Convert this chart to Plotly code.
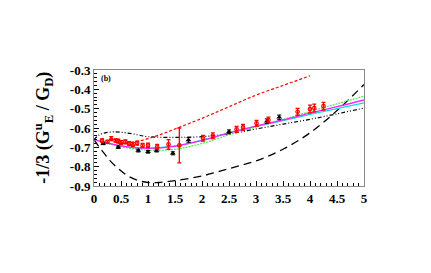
import plotly.graph_objects as go

# red data (open symbols)
red_x = [0.15, 0.25, 0.32, 0.4, 0.45, 0.5, 0.58, 0.65, 0.72, 0.8, 0.9, 1.0, 1.17, 1.38, 1.58, 2.02, 2.2, 2.64, 2.76, 3.01, 3.23, 3.77, 4.0, 4.08, 4.25]
red_y = [-0.665, -0.672, -0.655, -0.665, -0.668, -0.675, -0.672, -0.68, -0.685, -0.678, -0.69, -0.69, -0.697, -0.685, -0.69, -0.653, -0.64, -0.607, -0.597, -0.576, -0.559, -0.516, -0.502, -0.497, -0.487]
red_e = [0.008, 0.008, 0.01, 0.008, 0.01, 0.01, 0.01, 0.01, 0.01, 0.01, 0.01, 0.012, 0.012, 0.025, 0.09, 0.015, 0.015, 0.015, 0.015, 0.015, 0.015, 0.018, 0.02, 0.02, 0.02]
red_sym = ["circle-open", "circle-open", "triangle-up-open", "circle-open", "circle-open", "triangle-up-open", "circle-open", "circle-open", "triangle-up-open", "circle-open", "circle-open", "circle-open", "circle-open", "circle-open", "circle-open", "circle-open", "circle-open", "circle-open", "circle-open", "circle-open", "circle-open", "circle-open", "circle-open", "circle-open", "circle-open"]

# black data (filled triangles)
blk_x = [0.17, 0.45, 0.82, 1.0, 1.16, 1.46, 1.75, 2.5, 3.2, 3.43]
blk_y = [-0.68, -0.70, -0.717, -0.723, -0.717, -0.731, -0.662, -0.62, -0.565, -0.545]
blk_e = [0.006, 0.006, 0.007, 0.007, 0.007, 0.008, 0.012, 0.01, 0.012, 0.012]

# model curves
dot_x = [0.5, 0.75, 1.0, 1.25, 1.5, 2.0, 2.5, 3.0, 3.5, 4.0]
dot_y = [-0.68, -0.672, -0.655, -0.632, -0.605, -0.55, -0.49, -0.43, -0.38, -0.33]

dd_x = [0.0, 0.1, 0.2, 0.35, 0.5, 0.75, 1.0, 1.5, 2.0, 2.5, 3.0, 3.5, 4.0, 4.5, 5.0]
dd_y = [-0.66, -0.635, -0.625, -0.62, -0.622, -0.632, -0.645, -0.648, -0.645, -0.63, -0.605, -0.58, -0.555, -0.527, -0.497]

dash_x = [0.0, 0.1, 0.2, 0.3, 0.45, 0.6, 0.8, 1.0, 1.2, 1.5, 2.0, 2.5, 3.0, 3.5, 4.0, 4.5, 5.0]
dash_y = [-0.66, -0.70, -0.735, -0.77, -0.81, -0.843, -0.87, -0.882, -0.882, -0.872, -0.848, -0.81, -0.77, -0.71, -0.625, -0.51, -0.375]

fit_x = [0.0, 0.25, 0.5, 0.75, 1.0, 1.5, 2.0, 2.5, 3.0, 3.5, 4.0, 4.5, 5.0]
mag_y = [-0.66, -0.678, -0.692, -0.701, -0.705, -0.695, -0.665, -0.625, -0.59, -0.558, -0.523, -0.49, -0.455]
cyan_y = [-0.66, -0.678, -0.692, -0.701, -0.704, -0.693, -0.663, -0.625, -0.592, -0.562, -0.53, -0.5, -0.47]
grn_y = [-0.66, -0.68, -0.697, -0.708, -0.715, -0.71, -0.68, -0.635, -0.595, -0.556, -0.515, -0.475, -0.435]

fig = go.Figure()
fig.add_trace(go.Scatter(x=dash_x, y=dash_y, mode="lines", line=dict(color="black", width=1.3, dash="8px,5px"), line_shape="spline"))
fig.add_trace(go.Scatter(x=dd_x, y=dd_y, mode="lines", line=dict(color="black", width=1.2, dash="4px,2px,1px,2px,1px,2px"), line_shape="spline"))
fig.add_trace(go.Scatter(x=dot_x, y=dot_y, mode="lines", line=dict(color="red", width=1.2, dash="3px,2px"), line_shape="spline"))
fig.add_trace(go.Scatter(x=fit_x, y=grn_y, mode="lines", line=dict(color="#44ee44", width=1.2, dash="2px,1px"), line_shape="spline"))
fig.add_trace(go.Scatter(x=fit_x, y=cyan_y, mode="lines", line=dict(color="#00e0e8", width=1.3), line_shape="spline"))
fig.add_trace(go.Scatter(x=fit_x, y=mag_y, mode="lines", line=dict(color="#ff22ff", width=1.3), line_shape="spline"))
fig.add_trace(go.Scatter(x=blk_x, y=blk_y, mode="markers",
                         error_y=dict(type="data", array=blk_e, color="black", thickness=1, width=2),
                         marker=dict(symbol="triangle-up", size=5, color="black")))
fig.add_trace(go.Scatter(x=red_x, y=red_y, mode="markers",
                         error_y=dict(type="data", array=red_e, color="red", thickness=1.3, width=2),
                         marker=dict(symbol=red_sym, size=3.5, color="red", line=dict(width=1.2, color="red"))))

tickfont = dict(family="Liberation Serif", size=13, color="black", weight="bold")
fig.update_xaxes(range=[0, 5], tickvals=[0, 0.5, 1, 1.5, 2, 2.5, 3, 3.5, 4, 4.5, 5],
                 ticktext=["0", "0.5", "1", "1.5", "2", "2.5", "3", "3.5", "4", "4.5", "5"],
                 ticks="inside", ticklen=5, tickcolor="black", tickwidth=1,
                 minor=dict(ticks="inside", ticklen=3, dtick=0.1, tickcolor="black"),
                 showline=True, linecolor="#888", linewidth=1, mirror=True,
                 showgrid=False, zeroline=False, tickfont=tickfont)
fig.update_yaxes(range=[-0.9, -0.3], tickvals=[-0.9, -0.8, -0.7, -0.6, -0.5, -0.4, -0.3],
                 ticktext=["-0.9", "-0.8", "-0.7", "-0.6", "-0.5", "-0.4", "-0.3"],
                 ticks="inside", ticklen=5, tickcolor="black", tickwidth=1,
                 minor=dict(ticks="inside", ticklen=3, dtick=0.02, tickcolor="black"),
                 showline=True, linecolor="#888", linewidth=1, mirror=True,
                 showgrid=False, zeroline=False, tickfont=tickfont)

fig.add_annotation(x=0.02, y=0.985, xref="paper", yref="paper", text="(b)", showarrow=False,
                   xanchor="left", yanchor="top", font=dict(family="Liberation Serif", size=8, color="black", weight="bold"))
fig.add_annotation(x=-0.19, y=0.5, xref="paper", yref="paper", xanchor="center", yanchor="middle",
                   text="-1/3 (G<sup>u</sup><sub>E</sub> / G<sub>D</sub>)", textangle=-90,
                   showarrow=False, font=dict(family="Liberation Serif", size=18, color="black", weight="bold"))

fig.update_layout(width=431, height=273, margin=dict(l=86, r=75, t=62, b=95),
                  paper_bgcolor="white", plot_bgcolor="white", showlegend=False)
fig.write_html("out.html")
